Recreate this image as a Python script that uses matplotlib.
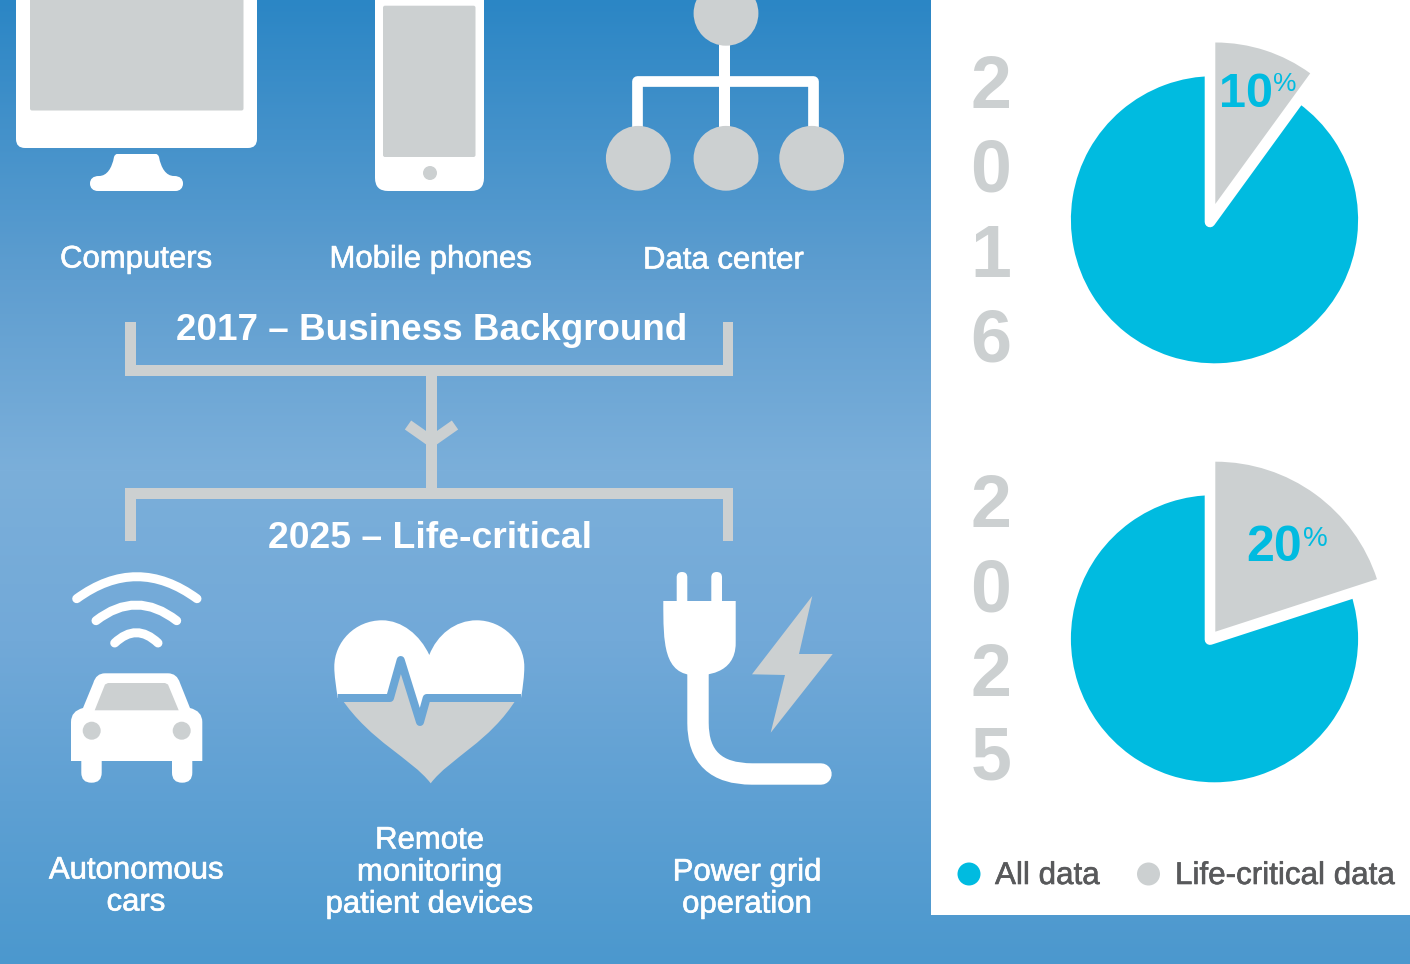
import numpy as np
import matplotlib
matplotlib.use("Agg")
import matplotlib.pyplot as plt
import matplotlib.patheffects as pe
from matplotlib.path import Path
from matplotlib.patches import PathPatch, Circle, Rectangle, FancyBboxPatch, Polygon, Wedge
from matplotlib.lines import Line2D

plt.rcParams['font.family'] = ['Liberation Sans', 'DejaVu Sans']

# ---- data ----
years = ["2016", "2025"]
life_critical_2016 = [10, 90]
life_critical_2025 = [20, 80]
pct_labels = ["10", "20"]
legend_labels = ["All data", "Life-critical data"]
top_labels = ["Computers", "Mobile phones", "Data center"]
title_top = "2017 \u2013 Business Background"
title_bottom = "2025 \u2013 Life-critical"
bottom_labels = [["Autonomous", "cars"], ["Remote", "monitoring", "patient devices"], ["Power grid", "operation"]]

W, H = 1410, 964
GREY = '#ccd0d1'
CYAN = '#00bbe0'
DARK = '#58595b'
WHITE = '#ffffff'
px = 0.72  # pixels to points at dpi 100

fig = plt.figure(figsize=(W / 100, H / 100), dpi=100)
ax = fig.add_axes([0, 0, 1, 1])
ax.set_xlim(0, W); ax.set_ylim(H, 0); ax.axis('off')

# background gradient
stops_y = [0, 280, 470, 640, 800, 964]
stops_rgb = np.array([[0x2b, 0x86, 0xc5], [0x5f, 0x9e, 0xd0], [0x7b, 0xaf, 0xda],
                      [0x72, 0xa9, 0xd8], [0x5e, 0xa0, 0xd3], [0x4b, 0x98, 0xce]]) / 255
ys = np.arange(H)
grad = np.stack([np.interp(ys, stops_y, stops_rgb[:, i]) for i in range(3)], axis=1)[:, None, :]
ax.imshow(grad, extent=(0, W, H, 0), aspect='auto', zorder=0)
ax.set_xlim(0, W); ax.set_ylim(H, 0)
def bg_at(y):
    return tuple(grad[int(y), 0])

ax.add_patch(Rectangle((931, 0), W - 931, 915, fc=WHITE, ec='none', zorder=1))

def rrect(x0, y0, x1, y1, r, c, z=2):
    ax.add_patch(FancyBboxPatch((x0, y0), x1 - x0, y1 - y0, boxstyle=f"round,pad=0,rounding_size={r}",
                                fc=c, ec='none', zorder=z))
def shape(verts, codes, c, z=2):
    ax.add_patch(PathPatch(Path(verts, codes), fc=c, ec='none', zorder=z))
def stroke(xs, ys_, c, w, cap='butt', join='miter', z=3):
    ax.add_line(Line2D(xs, ys_, color=c, lw=w * px, solid_capstyle=cap, solid_joinstyle=join, zorder=z))
def rect(x0, y0, x1, y1, c, z=2):
    ax.add_patch(Rectangle((x0, y0), x1 - x0, y1 - y0, fc=c, ec='none', zorder=z))
M, L, C3, C4, CL = Path.MOVETO, Path.LINETO, Path.CURVE3, Path.CURVE4, Path.CLOSEPOLY
medium_w = [pe.withStroke(linewidth=0.45, foreground=WHITE)]
medium_d = [pe.withStroke(linewidth=0.45, foreground=DARK)]

# monitor
rrect(16, -30, 257, 148, 9, WHITE)
rrect(30, -30, 243.5, 110.5, 2, GREY, 3)
shape([(117, 154), (156, 154), (158, 154), (159, 157), (161, 168), (166, 176), (174, 176),
       (180, 176), (183, 179), (183, 183.5), (183, 188), (180, 191), (175.5, 191), (98, 191),
       (93, 191), (90, 188), (90, 183.5), (90, 179), (93, 176), (99, 176),
       (107, 176), (112, 168), (114, 157), (115, 154), (117, 154), (117, 154)],
      [M, L, C3, C3, C4, C4, C4, C4, C4, C4, C4, C4, C4, L, C4, C4, C4, C4, C4, C4, C4, C4, C4, C3, C3, CL], WHITE)

# phone
rrect(375, -30, 484, 191, 13, WHITE)
rrect(383, 5.7, 475.5, 157, 2, GREY, 3)
ax.add_patch(Circle((430, 173), 7, fc=GREY, ec='none', zorder=3))

# network
rect(719.3, 30, 730, 130, WHITE)
stroke([636.6, 636.6, 812.8, 812.8], [130, 80.6, 80.6, 130], WHITE, 10.7, join='round', z=2)
for cx, cy in [(726, 13.3), (638.3, 158.3), (726, 158.3), (811.7, 158.3)]:
    ax.add_patch(Circle((cx, cy), 32.4, fc=GREY, ec='none', zorder=3))

# top labels
for t, x, yb in zip(top_labels, [136, 430.5, 723.5], [267.5, 267.5, 268.5]):
    ax.text(x, yb, t, color=WHITE, fontsize=22.4, ha='center', va='baseline', zorder=5, path_effects=medium_w)

# brackets
rect(125, 322, 136, 376, GREY); rect(723, 322, 733, 376, GREY); rect(125, 365, 733, 376, GREY)
rect(426, 376, 437, 490, GREY)
rect(125, 488, 733, 499, GREY); rect(125, 488, 136, 541, GREY); rect(723, 488, 733, 541, GREY)
stroke([408, 431.5, 455], [425, 441.5, 425], GREY, 11)
ax.text(432, 340.5, title_top, color=WHITE, fontsize=26.5, fontweight='bold', ha='center', va='baseline', zorder=5)
ax.text(429.5, 548.5, title_bottom, color=WHITE, fontsize=26.9, fontweight='bold', ha='center', va='baseline', zorder=5)

# wifi arcs
for xa, xb, yend, ytop in [(76.7, 197, 598.7, 576.7), (96, 176.7, 620.7, 605), (114.7, 158, 643, 632.7)]:
    p = Path([(xa, yend), ((xa + xb) / 2, 2 * ytop - yend), (xb, yend)], [M, C3, C3])
    ax.add_patch(PathPatch(p, fc='none', ec=WHITE, lw=9 * px, capstyle='round', zorder=3))

# car
shape([(71, 761), (71, 722), (71, 711), (83, 708), (93.3, 683), (96, 673.3), (105, 673.3), (168, 673.3),
       (177, 673.3), (180, 683), (190, 708), (202.3, 711), (202.3, 722), (202.3, 761), (71, 761)],
      [M, L, C3, C3, L, C3, C3, L, C3, C3, L, C3, C3, L, CL], WHITE)
rrect(81.3, 750, 101.7, 782.7, 10, WHITE)
rrect(172, 750, 192.3, 782.7, 10, WHITE)
ax.add_patch(Polygon([(94.7, 710.3), (105, 684.5), (108, 683), (165, 683), (168, 684.5), (178.7, 710.3)], fc=GREY, ec='none', zorder=3))
for cx in (91.7, 181.7):
    ax.add_patch(Circle((cx, 730.7), 9, fc=GREY, ec='none', zorder=3))

# heart
ecg = [(337.7, 698), (390, 698), (400.7, 660), (420, 722), (426.7, 698), (521, 698)]
top_v = [(429.3, 655), (420, 635), (402, 620.3), (382, 620.3), (355, 620.3), (334.3, 642), (334.3, 666.7),
         (334.3, 676), (336, 686), (337.7, 698)] + ecg[1:] + [(523, 686), (524.3, 676), (524.3, 666.7),
         (524.3, 642), (503, 620.3), (476.7, 620.3), (455, 620.3), (437, 635), (429.3, 655), (429.3, 655)]
top_c = [M] + [C4] * 9 + [L] * 5 + [C4] * 9 + [CL]
shape(top_v, top_c, WHITE)
grey_v = [(341, 698)] + ecg[1:-1] + [(517, 698), (490, 742), (450, 758), (430.7, 783.3),
          (411, 758), (371, 742), (341, 698), (341, 698)]
grey_c = [M] + [L] * 5 + [C4] * 6 + [CL]
shape(grey_v, grey_c, GREY)
stroke([p[0] for p in ecg], [p[1] for p in ecg], bg_at(698), 8, join='round', z=3)

# plug
rrect(676.7, 572, 687.3, 610, 5.3, WHITE)
rrect(711.3, 572, 722, 610, 5.3, WHITE)
shape([(663.3, 601), (735.7, 601), (735.7, 643), (735.7, 675.3), (703, 675.3), (696, 675.3), (663.3, 675.3),
       (663.3, 643), (663.3, 601), (663.3, 601)], [M, L, L, C4, C4, L, C4, C4, L, CL], WHITE)
p = Path([(698, 670), (698, 723), (698, 774), (752, 774), (821, 774)], [M, L, C3, C3, L])
ax.add_patch(PathPatch(p, fc='none', ec=WHITE, lw=21.4 * px, capstyle='round', zorder=2))
ax.add_patch(Polygon([(812.3, 596), (799, 654), (832.7, 654), (770.7, 732.7), (785, 675), (752, 674.3)], fc=GREY, ec='none', zorder=3))

# bottom labels
for lines, x, bases in zip(bottom_labels, [136, 429.5, 747], [[878.5, 910.5], [848.5, 880.5, 912.5], [880.5, 912.5]]):
    for t, yb in zip(lines, bases):
        ax.text(x, yb, t, color=WHITE, fontsize=22.4, ha='center', va='baseline', zorder=5, path_effects=medium_w)

# pies in y-up axes on top
pax = fig.add_axes([0, 0, 1, 1], zorder=5)
pax.patch.set_alpha(0)
def flip(y):
    return H - y

def draw_pie(values, cy, grey_apex_y, grey_r, gap_apex_y):
    disc_c = (1214.5, flip(cy))
    wedges, _ = pax.pie(values, colors=[GREY, CYAN], startangle=90, counterclock=False,
                        radius=143.6, center=disc_c, frame=True)
    grey, blue = wedges
    t1, t2 = grey.theta1, grey.theta2
    gap = Wedge((1210, flip(gap_apex_y)), 178, t1, t2, fc=WHITE, ec=WHITE, lw=10.6 * px, joinstyle='round', zorder=blue.get_zorder() + 0.5)
    pax.add_patch(gap)
    grey.set_center((1215.3, flip(grey_apex_y)))
    grey.set_radius(grey_r)
    grey.set_zorder(blue.get_zorder() + 1)

draw_pie(life_critical_2016, 219.7, 204, 161.5, 222)
draw_pie(life_critical_2025, 638.7, 631.7, 170, 639.6)
pax.set_xlim(0, W); pax.set_ylim(0, H); pax.set_aspect('auto'); pax.axis('off')

# pie percent labels
pax.text(1219, flip(107), pct_labels[0], color=CYAN, fontsize=35, fontweight='bold', ha='left', va='baseline', zorder=10)
pax.text(1273, flip(90.7), '%', color=CYAN, fontsize=19, ha='left', va='baseline', zorder=10)
pax.text(1246, flip(561), pct_labels[1], color=CYAN, fontsize=36, fontweight='bold', ha='left', va='baseline', zorder=10)
pax.text(1303, flip(545.7), '%', color=CYAN, fontsize=20, ha='left', va='baseline', zorder=10)

# years
for yr, bases in zip(years, [[108, 192, 277, 361], [527, 611, 696, 780]]):
    for d, yb in zip(yr, bases):
        pax.text(991, flip(yb), d, color=GREY, fontsize=53, fontweight='bold', ha='center', va='baseline', zorder=10)

# legend
for (cx, col), t, tx in zip([(969, CYAN), (1148.5, GREY)], legend_labels, [995, 1175]):
    pax.add_patch(Circle((cx, flip(874)), 11.5, fc=col, ec='none', zorder=10))
    pax.text(tx, flip(884), t, color=DARK, fontsize=22.6, ha='left', va='baseline', zorder=10, path_effects=medium_d)

fig.savefig('out.png', dpi=100)
